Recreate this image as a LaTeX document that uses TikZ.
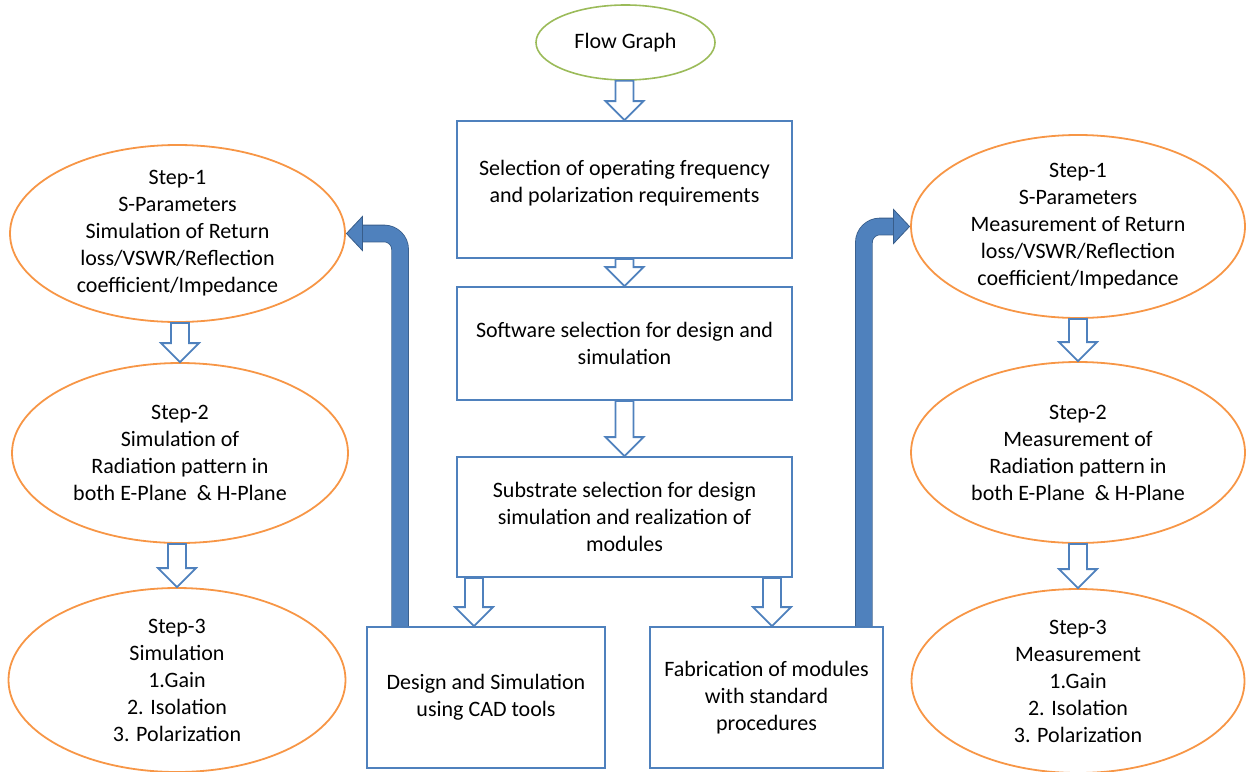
\documentclass[tikz,border=0pt]{standalone}
\usepackage{fontspec}
\setmainfont{Carlito}
\usepackage{xcolor}
\usepackage{tikz}
\usetikzlibrary{arrows.meta, positioning, shapes.geometric, calc}

\definecolor{boxblue}{HTML}{4F81BD}
\definecolor{edgeblue}{HTML}{385D8A}
\definecolor{steporange}{HTML}{F79646}
\definecolor{startgreen}{HTML}{9BBB59}

\newcommand{\hollowdown}[2]{%
  \draw[hollow] let \p1=(#1), \p2=(#2) in
    (\x2-9pt,\y1) -- (\x2-9pt,\y2+19pt) -- (\x2-19pt,\y2+19pt) -- (\x2,\y2)
    -- (\x2+19pt,\y2+19pt) -- (\x2+9pt,\y2+19pt) -- (\x2+9pt,\y1) -- cycle;}

\begin{document}
\begin{tikzpicture}[
  x=1pt, y=-1pt,
  every node/.style={font=\fontsize{22}{27}\selectfont},
  startell/.style={draw=startgreen, ellipse, line width=1.6pt, minimum width=179pt, minimum height=75pt},
  stepbox/.style={draw=boxblue, line width=1.8pt, align=center, inner sep=0pt},
  stepell/.style={draw=steporange, ellipse, line width=1.8pt, inner sep=0pt},
  steptxt/.style={align=center, inner sep=0pt},
  hollow/.style={draw=boxblue, fill=white, line width=1.8pt, line join=miter},
  bendarrow/.style={draw=boxblue, line width=16pt, rounded corners=16pt,
    -{Triangle[length=17pt, width=36pt, fill=boxblue, color=edgeblue, line width=0.8pt]},
    preaction={draw=edgeblue, line width=17.6pt, arrows=-, shorten >=16pt}}
]
\useasboundingbox (0,0) rectangle (1246,771);

\node[startell] (flow) at (625.5,42.5) {Flow Graph};
\node[stepbox, minimum width=335pt, minimum height=137pt, text depth=16pt] (sel) at (624.5,189.5)
  {Selection of operating frequency\\and polarization requirements};
\node[stepbox, minimum width=335pt, minimum height=113pt] (soft) at (624.5,343.5)
  {Software selection for design and\\simulation};
\node[stepbox, minimum width=335pt, minimum height=120pt] (sub) at (624.5,517)
  {Substrate selection for design\\simulation and realization of\\modules};
\node[stepbox, minimum width=238pt, minimum height=141pt] (design) at (486,697.5)
  {Design and Simulation\\using CAD tools};
\node[stepbox, minimum width=233pt, minimum height=141pt] (fab) at (766.5,697.5)
  {Fabrication of modules\\with standard\\procedures};

\node[stepell, minimum width=335pt, minimum height=177pt] (ls1) at (177.5,233.5) {};
\node[steptxt] (ls1t) at (ls1) {Step-1\\S-Parameters\\Simulation of Return\\loss/VSWR/Reflection\\coefficient/Impedance};
\node[stepell, minimum width=336pt, minimum height=180pt] (ls2) at (180,453) {};
\node[steptxt] (ls2t) at (ls2) {Step-2\\Simulation of\\Radiation pattern in\\both E-Plane\ \ \& H-Plane};
\node[stepell, minimum width=337pt, minimum height=184pt] (ls3) at (177,680) {};
\node[steptxt] (ls3t) at (ls3) {Step-3\\Simulation\\1.Gain\\2. Isolation\\3. Polarization};

\node[stepell, minimum width=334pt, minimum height=183pt] (rs1) at (1078,226.5) {};
\node[steptxt] (rs1t) at (rs1) {Step-1\\S-Parameters\\Measurement of Return\\loss/VSWR/Reflection\\coefficient/Impedance};
\node[stepell, minimum width=334pt, minimum height=181pt] (rs2) at (1078,452.5) {};
\node[steptxt] (rs2t) at (rs2) {Step-2\\Measurement of\\Radiation pattern in\\both E-Plane\ \ \& H-Plane};
\node[stepell, minimum width=333pt, minimum height=184pt] (rs3) at (1078,681) {};
\node[steptxt] (rs3t) at (rs3) {Step-3\\Measurement\\1.Gain\\2. Isolation\\3. Polarization};

\hollowdown{flow.south}{sel.north}
\hollowdown{sel.south}{soft.north}
\hollowdown{soft.south}{sub.north}
\hollowdown{sub.south}{[xshift=-12pt]design.north}
\hollowdown{sub.south}{[xshift=5.5pt]fab.north}
\hollowdown{ls1.south}{ls2.north}
\hollowdown{ls2.south}{ls3.north}
\hollowdown{rs1.south}{rs2.north}
\hollowdown{rs2.south}{rs3.north}

\draw[bendarrow] ([xshift=34pt]design.north west) |- (ls1.east);
\draw[bendarrow] ([xshift=-20pt]fab.north east) |- (rs1.west);
\end{tikzpicture}
\end{document}
